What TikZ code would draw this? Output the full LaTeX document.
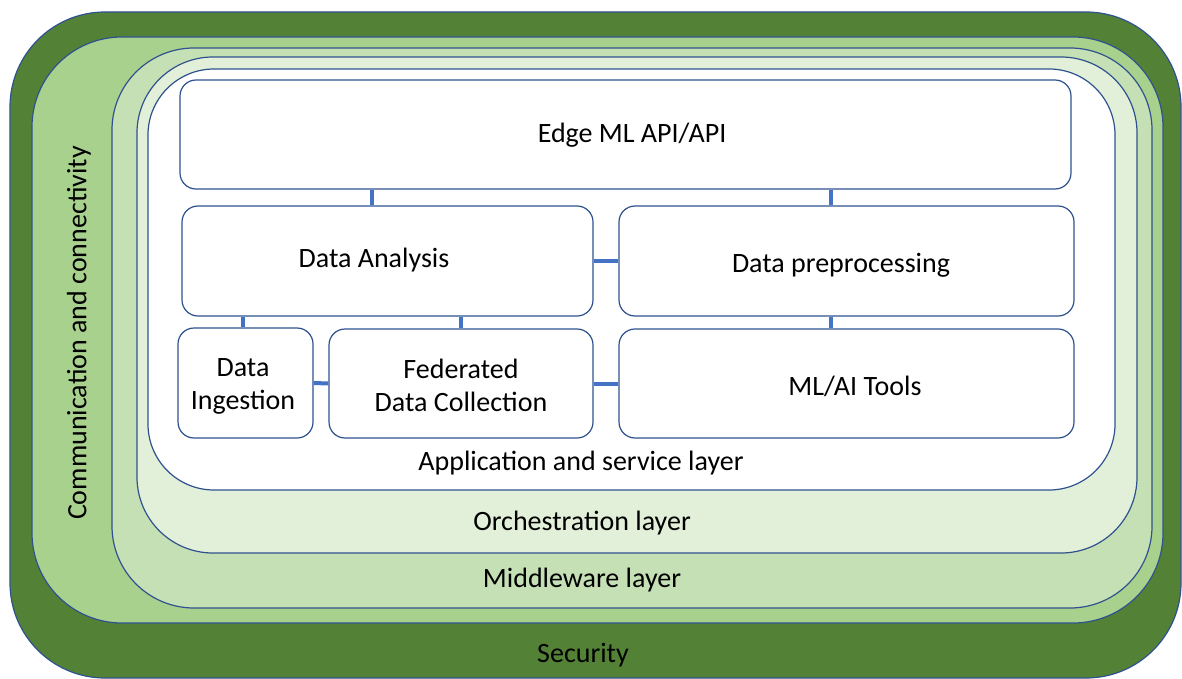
\documentclass[tikz,border=0pt]{standalone}
\usepackage{fontspec}
\setmainfont{Carlito}
\usetikzlibrary{calc}
\definecolor{dkgreen}{HTML}{538135}
\definecolor{ltgreen}{HTML}{A9D18E}
\definecolor{midgreen}{HTML}{C5E0B4}
\definecolor{palegreen}{HTML}{E2F0D9}
\definecolor{edgeblue}{HTML}{2F528F}
\definecolor{linkblue}{HTML}{4472C4}
\tikzset{
  layer/.style={draw=edgeblue, line width=1.2pt},
  box/.style={draw=edgeblue, line width=1.2pt, fill=white, rounded corners=16pt, align=center, font=\fontsize{28}{33}\selectfont, inner sep=0pt},
  link/.style={draw=linkblue, line width=4pt},
  lbl/.style={font=\fontsize{28}{33}\selectfont, inner sep=0pt, align=center, yshift=-2pt}
}
\begin{document}
\begin{tikzpicture}[x=1pt,y=-1pt]
\useasboundingbox (0,0) rectangle (1182,679);
% layers
\draw[layer, fill=dkgreen, rounded corners=95pt] (10,12) rectangle (1181,678);
\draw[layer, fill=ltgreen, rounded corners=90pt] (32,37) rectangle (1163,623);
\draw[layer, fill=midgreen, rounded corners=82pt] (112,48) rectangle (1152,608);
\draw[layer, fill=palegreen, rounded corners=76pt] (137,57) rectangle (1137,553);
\draw[layer, fill=white, rounded corners=66pt] (148,69) rectangle (1115,490);
% layer labels
\node[lbl] (sec) at (583,653) {Security};
\node[lbl] (mid) at (582,578) {Middleware layer};
\node[lbl] (orc) at (582,521) {Orchestration layer};
\node[lbl] (app) at (581,461) {Application and service layer};
\node[lbl, rotate=90, yshift=2pt, xshift=2pt] (com) at (81,333) {Communication and connectivity};
% boxes
\node[box, minimum width=891pt, minimum height=109pt] (api) at (625.5,134.5) {};
\node[box, minimum width=411pt, minimum height=110pt] (ana) at (387.5,261) {};
\node[box, minimum width=455pt, minimum height=110pt] (pre) at (846.5,261) {};
\node[box, minimum width=135pt, minimum height=110pt] (ing) at (245.5,383) {};
\node[box, minimum width=264pt, minimum height=109pt] (fed) at (461,383.5) {};
\node[box, minimum width=455pt, minimum height=109pt] (mlt) at (846.5,383.5) {};
% box texts
\node[lbl] (apit) at (632,133) {Edge ML API/API};
\node[lbl] (anat) at (374,258) {Data Analysis};
\node[lbl] (pret) at (841,263) {Data preprocessing};
\node[lbl] (ingt) at (243,384) {Data\\Ingestion};
\node[lbl] (fedt) at (461,383) {Federated\\Data Collection};
\node[lbl] (mltt) at (855,384) {ML/AI Tools};
% connector x positions
\coordinate (x1) at (372,0);
\coordinate (x2) at (831,0);
\coordinate (x3) at (243,0);
\coordinate (x4) at (461,0);
% connectors
\draw[link] (api.south -| x1) -- (ana.north -| x1);
\draw[link] (api.south -| x2) -- (pre.north -| x2);
\draw[link] (ana.east) -- (pre.west);
\draw[link] (ana.south -| x3) -- (ing.north -| x3);
\draw[link] (ana.south -| x4) -- (fed.north -| x4);
\draw[link] (pre.south -| x2) -- (mlt.north -| x2);
\draw[link] (ing.east) -- (fed.west);
\draw[link] (fed.east) -- (mlt.west);
\end{tikzpicture}
\end{document}
